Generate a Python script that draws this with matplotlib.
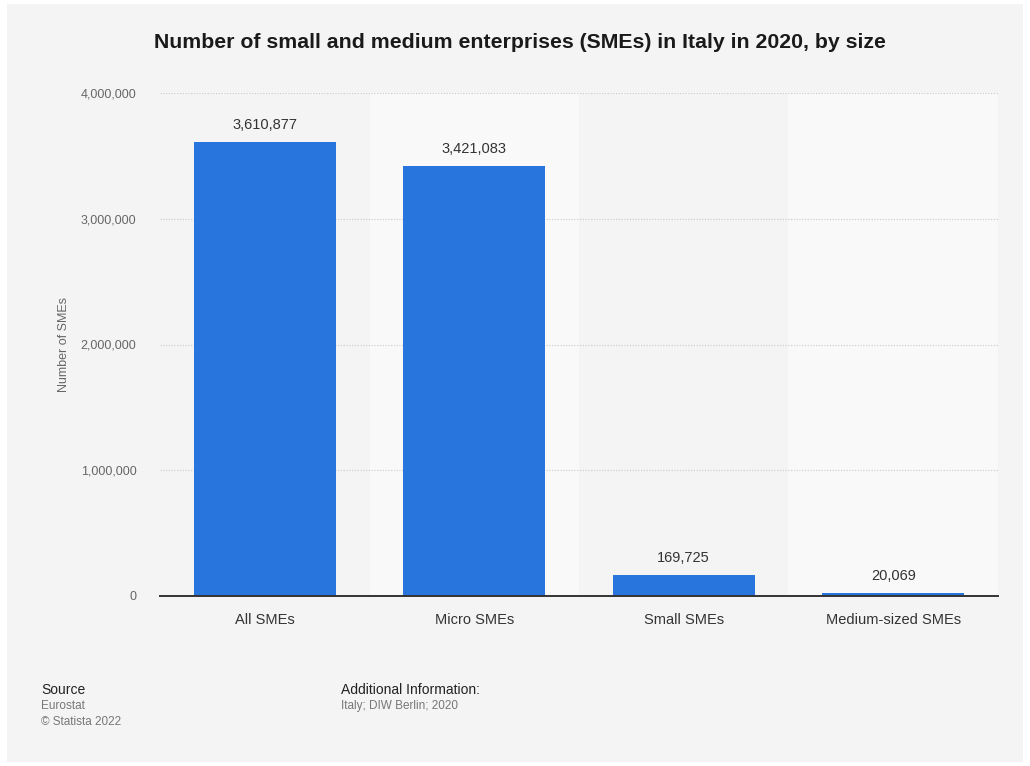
import matplotlib.pyplot as plt
from matplotlib.patches import Rectangle
from matplotlib.ticker import FuncFormatter

plt.rcParams["font.family"] = ["Liberation Sans", "DejaVu Sans"]

categories = ["All SMEs", "Micro SMEs", "Small SMEs", "Medium-sized SMEs"]
values = [3610877, 3421083, 169725, 20069]
y_ticks = [0, 1000000, 2000000, 3000000, 4000000]

W, H = 1030, 766
fig = plt.figure(figsize=(W / 100, H / 100), dpi=100, facecolor="white")
fig.patches.append(Rectangle((7 / W, 4 / H), 1016 / W, 758 / H,
                             transform=fig.transFigure, facecolor="#f4f4f4",
                             edgecolor="none", zorder=-10))

ax = fig.add_axes([160 / W, (H - 596) / H, 838 / W, 503 / H])
ax.set_facecolor("#f4f4f4")

x = list(range(len(categories)))
for i in x:
    if i % 2 == 1:
        ax.axvspan(i - 0.5, i + 0.5, color="#f9f9f9", zorder=0, lw=0)

bars = ax.bar(x, values, width=0.68, color="#2875dd", zorder=3)
for b, v in zip(bars, values):
    ax.text(b.get_x() + b.get_width() / 2, v + 80000, f"{v:,}",
            ha="center", va="bottom", fontsize=10.5, color="#333333")

ax.set_xlim(-0.5, len(categories) - 0.5)
ax.set_ylim(0, 4000000)
ax.set_yticks(y_ticks)
ax.yaxis.set_major_formatter(FuncFormatter(lambda v, p: f"{int(v):,}"))
ax.set_xticks(x)
ax.set_xticklabels(categories, fontsize=10.5, color="#333333")
ax.tick_params(axis="y", length=0, pad=17, labelsize=9, labelcolor="#666666")
ax.tick_params(axis="x", length=0, pad=12)
ax.grid(axis="y", color="#c8c8c8", linestyle=(0, (1, 1.5)), linewidth=0.8, zorder=1)
for s in ["top", "right", "left"]:
    ax.spines[s].set_visible(False)
ax.spines["bottom"].set_color("#333333")
ax.spines["bottom"].set_linewidth(1.4)
ax.spines["bottom"].set_zorder(4)
ax.set_ylabel("Number of SMEs", fontsize=9, color="#666666", labelpad=8)

fig.text(520 / W, 1 - 42 / H,
         "Number of small and medium enterprises (SMEs) in Italy in 2020, by size",
         ha="center", va="center", fontsize=15.3, fontweight="bold", color="#1a1a1a")

fig.text(41 / W, 1 - 690 / H, "Source", fontsize=10, color="#222222", va="center")
fig.text(41 / W, 1 - 706 / H, "Eurostat", fontsize=8.5, color="#777777", va="center")
fig.text(41 / W, 1 - 722 / H, "\u00a9 Statista 2022", fontsize=8.5, color="#777777", va="center")
fig.text(341 / W, 1 - 690 / H, "Additional Information:", fontsize=10, color="#222222", va="center")
fig.text(341 / W, 1 - 706 / H, "Italy; DIW Berlin; 2020", fontsize=8.5, color="#777777", va="center")

fig.savefig("out.png", dpi=100, facecolor="white")
